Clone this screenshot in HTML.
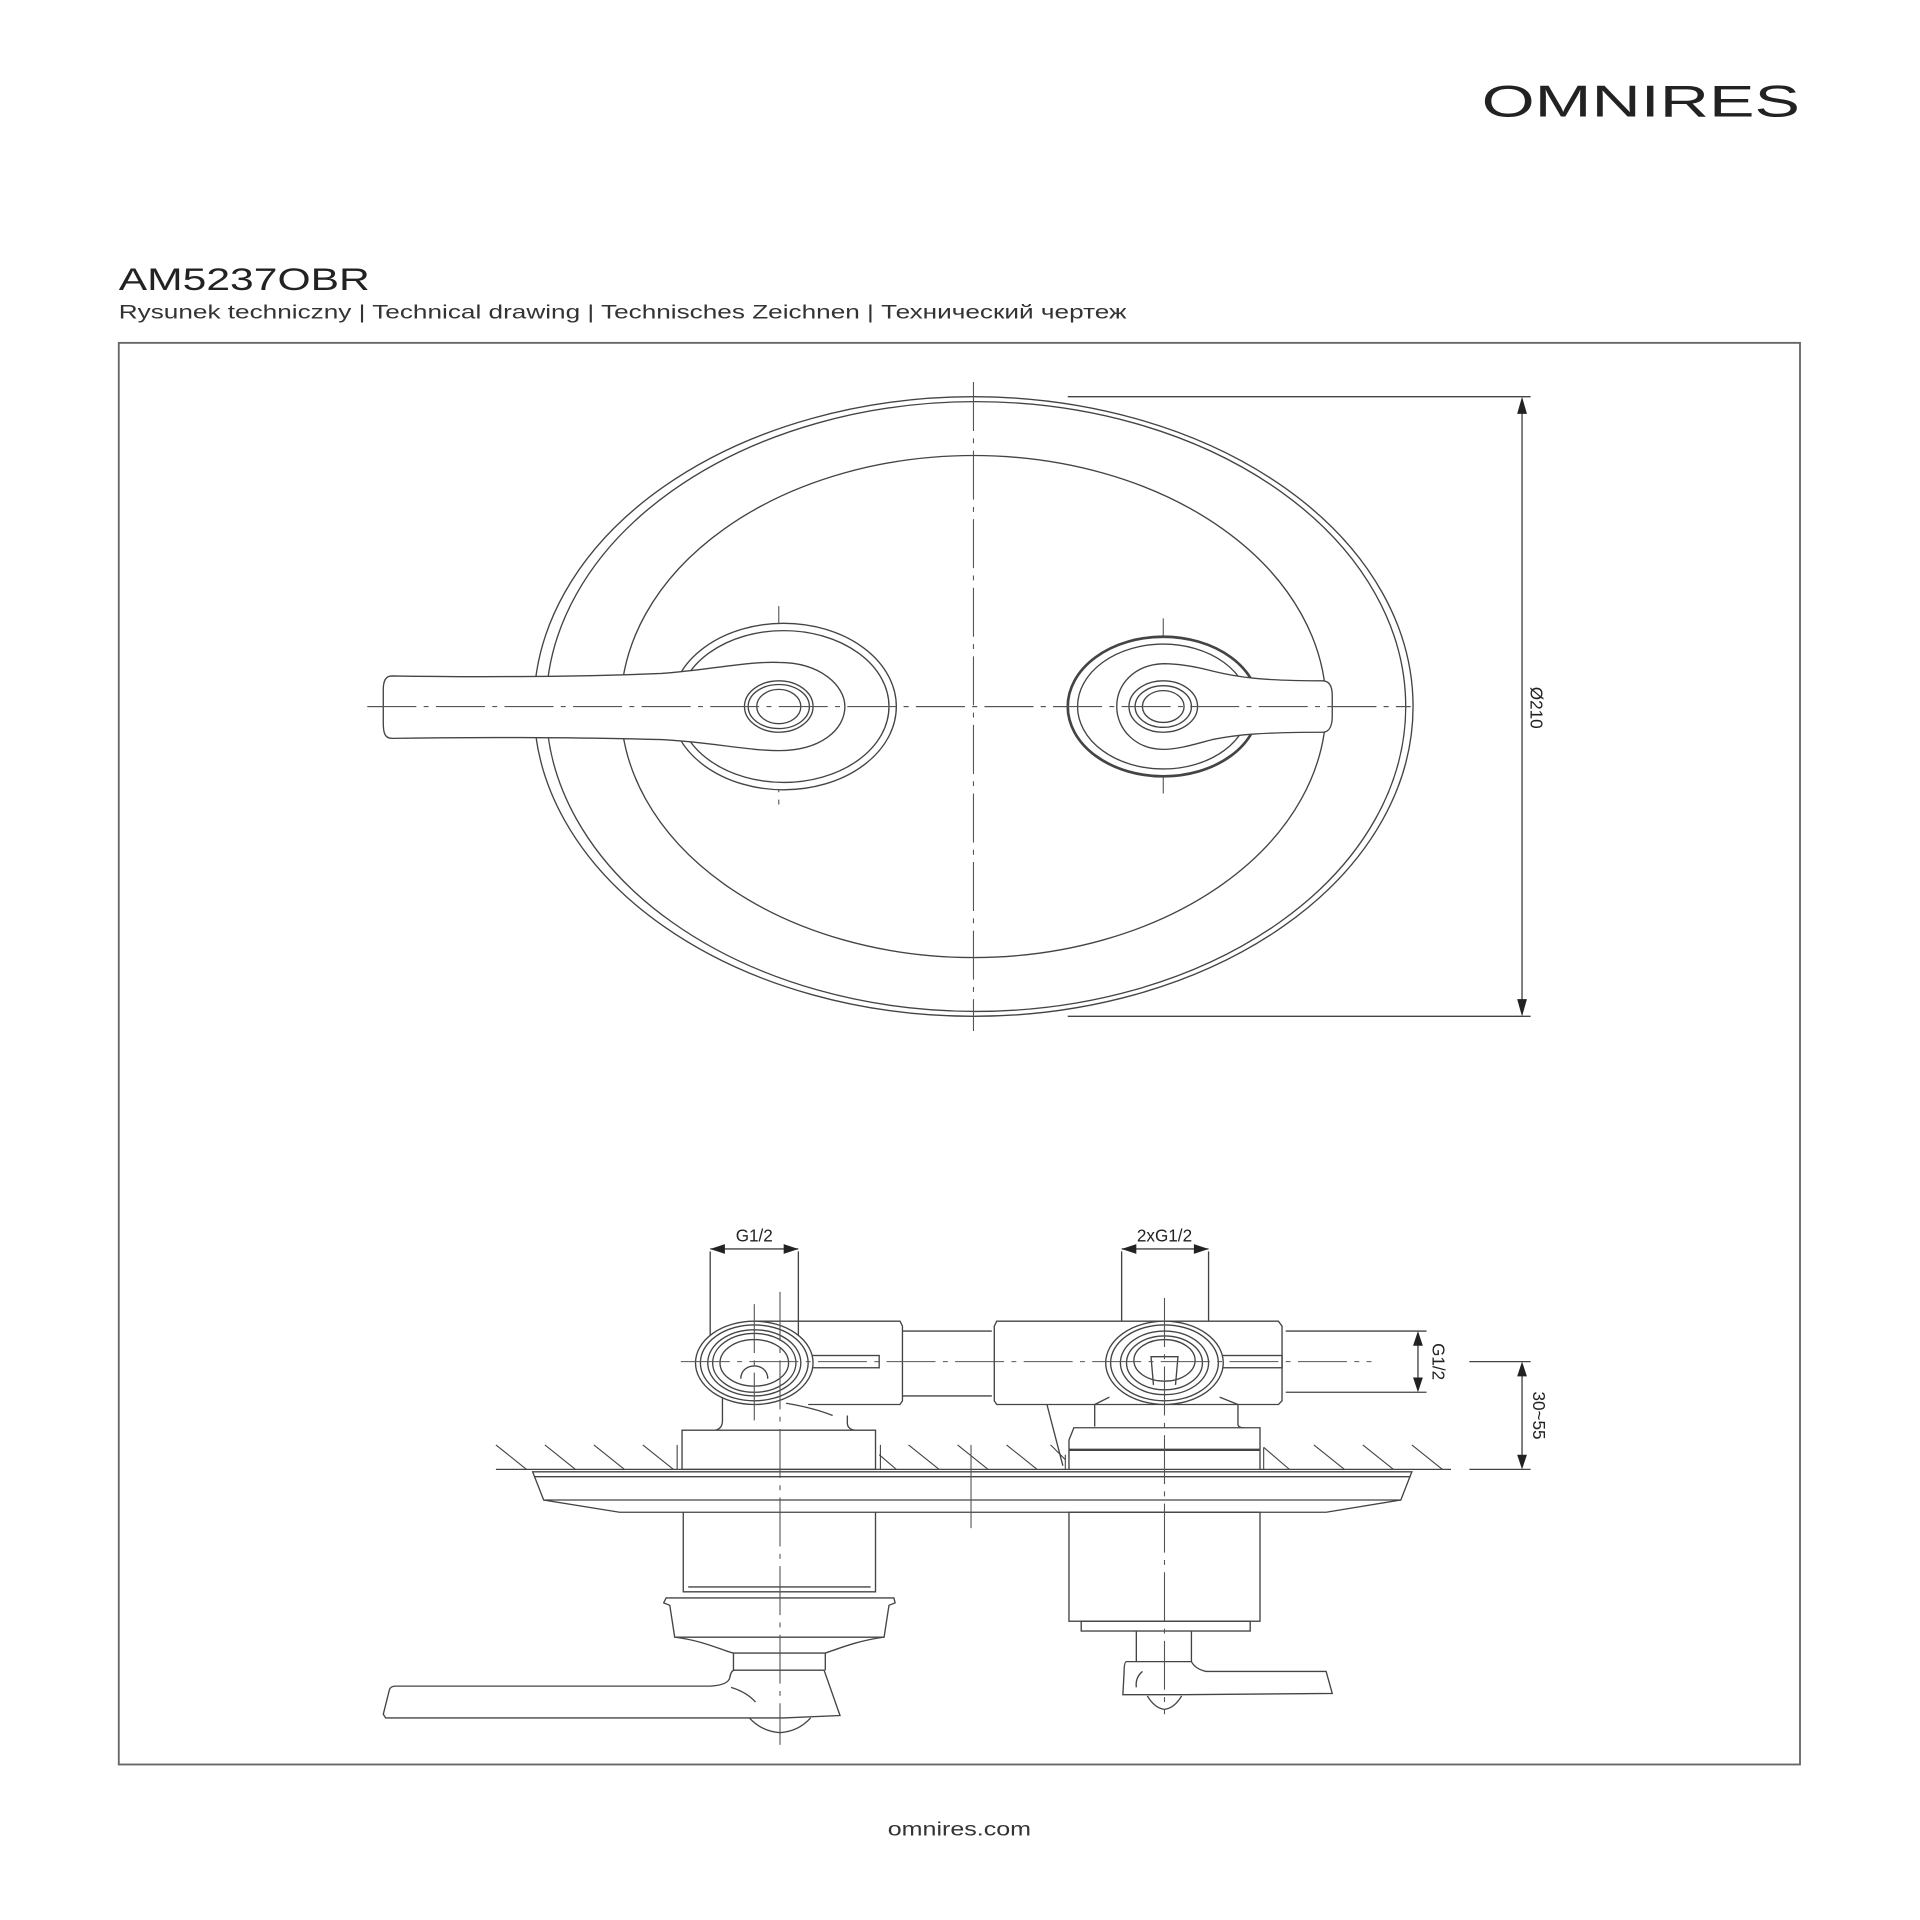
<!DOCTYPE html>
<html><head><meta charset="utf-8"><style>
html,body{margin:0;padding:0;background:#fff;}
svg{display:block;}
</style></head><body>
<svg width="1920" height="1920" viewBox="0 0 1568 1568" xmlns="http://www.w3.org/2000/svg" font-family="'Liberation Sans', sans-serif">
<rect width="1568" height="1568" fill="#fff"/>
<text x="1210" y="95" font-size="36" textLength="260" lengthAdjust="spacingAndGlyphs" fill="#222" font-family="'Liberation Sans', sans-serif">OMNIRES</text>
<text x="97" y="237" font-size="26" textLength="205" lengthAdjust="spacingAndGlyphs" fill="#222">AM5237OBR</text>
<text x="97" y="260" font-size="16" textLength="823" lengthAdjust="spacingAndGlyphs" fill="#333">Rysunek techniczny | Technical drawing | Technisches Zeichnen | Технический чертеж</text>
<rect x="97" y="280" width="1373" height="1161" fill="none" stroke="#666" stroke-width="1.5"/>
<text x="725" y="1499" font-size="16" textLength="117" lengthAdjust="spacingAndGlyphs" fill="#333">omnires.com</text>

<g fill="none" stroke="#444" stroke-width="1.1">
<ellipse cx="795" cy="577" rx="359" ry="253"/>
<ellipse cx="797" cy="577" rx="351" ry="249"/>
<ellipse cx="795" cy="577" rx="288" ry="205"/>
<g stroke="#555" stroke-width="0.9" stroke-dasharray="40 6 4 6">
<line x1="795" y1="312" x2="795" y2="842"/>
<line x1="300" y1="577" x2="1152" y2="577"/>
<line x1="636" y1="495" x2="636" y2="660"/>
<line x1="950" y1="505" x2="950" y2="648"/>
</g>
<ellipse cx="640" cy="577" rx="92" ry="68" fill="#fff"/>
<ellipse cx="640" cy="577" rx="86" ry="62"/>
<path d="M320 552 C380 553 470 553 540 550 C580 547 610 540 636 541 C670 541 690 560 690 577 C690 596 670 613 636 613 C610 613 580 606 540 604 C470 602 380 602 320 603 C314 603 313 598 313 590 L313 563 C313 556 315 552 320 552 Z" fill="#fff"/>
<ellipse cx="636" cy="577" rx="28" ry="21"/>
<ellipse cx="636" cy="577" rx="25" ry="18"/>
<ellipse cx="636" cy="577" rx="18" ry="14"/>
<ellipse cx="950" cy="577" rx="78" ry="57" stroke-width="2.2" fill="#fff"/>
<ellipse cx="950" cy="577" rx="70" ry="51"/>
<path d="M1080 556 C1030 556 1010 553 990 548 C975 544 960 542 950 542 C925 543 912 560 912 577 C912 596 928 612 950 612 C962 612 975 608 990 604 C1010 600 1030 598 1080 598 C1086 598 1088 592 1088 585 L1088 568 C1088 561 1086 556 1080 556 Z" fill="#fff"/>
<ellipse cx="950" cy="577" rx="28" ry="21"/>
<ellipse cx="950" cy="577" rx="23" ry="17"/>
<ellipse cx="950" cy="577" rx="17" ry="13"/>
<line x1="300" y1="577" x2="1152" y2="577" stroke="#555" stroke-width="0.9" stroke-dasharray="40 6 4 6"/>
<line x1="872" y1="324" x2="1250" y2="324"/>
<line x1="872" y1="830" x2="1250" y2="830"/>
<line x1="1243" y1="330" x2="1243" y2="824"/>
</g>
<path d="M1243 324 L1239 338 L1247 338 Z M1243 830 L1239 816 L1247 816 Z" fill="#222"/>
<text transform="translate(1250,578) rotate(90)" text-anchor="middle" font-size="14" fill="#222">Ø210</text>

<g fill="none" stroke="#444" stroke-width="1.1">
<line x1="580" y1="1022" x2="580" y2="1100"/>
<line x1="652" y1="1022" x2="652" y2="1100"/>
<line x1="580" y1="1020" x2="652" y2="1020"/>
<line x1="916" y1="1022" x2="916" y2="1100"/>
<line x1="987" y1="1022" x2="987" y2="1100"/>
<line x1="916" y1="1020" x2="987" y2="1020"/>
<path d="M616 1079 L735 1079 L737 1083 L737 1144 L735 1147 L660 1147"/>
<path d="M737 1087 L810 1087 M737 1140 L810 1140"/>
<path d="M812 1083 L814 1079 L1044 1079 L1047 1083 L1047 1144 L1044 1147 L814 1147 L812 1144 Z" fill="#fff"/>
<rect x="655" y="1107" width="63" height="10"/>
<rect x="990" y="1107" width="57" height="10"/>
<ellipse cx="616" cy="1113" rx="48" ry="34" fill="#fff"/>
<ellipse cx="616" cy="1113" rx="44" ry="31"/>
<ellipse cx="616" cy="1113" rx="38" ry="27"/>
<ellipse cx="616" cy="1113" rx="34" ry="24"/>
<ellipse cx="616" cy="1113" rx="28" ry="19"/>
<path d="M605 1126 C605 1112 627 1112 627 1126"/>
<path d="M590 1141 L590 1160 Q590 1167 584 1168 M642 1146 C660 1149 670 1152 680 1156 M692 1156 L692 1162 Q692 1167 698 1168"/>
<rect x="557" y="1168" width="158" height="32" fill="#fff"/>
<ellipse cx="951" cy="1113" rx="48" ry="34" fill="#fff"/>
<ellipse cx="951" cy="1113" rx="44" ry="31"/>
<ellipse cx="951" cy="1113" rx="36" ry="26"/>
<ellipse cx="951" cy="1113" rx="31" ry="22"/>
<ellipse cx="951" cy="1111" rx="25" ry="17"/>
<path d="M942 1131 L940 1108 L962 1108 L960 1131"/>
<path d="M894 1147 L894 1165 M1011 1147 L1011 1163 Q1011 1166 1016 1166 M906 1141 L894 1147 M996 1141 L1011 1147"/>
<path d="M855 1147 L868 1197"/>
<path d="M873 1200 L873 1176 L877 1166 L1029 1166 L1029 1200" fill="#fff"/>
<line x1="873" y1="1184" x2="1029" y2="1184" stroke-width="2"/>
<g stroke-width="0.9">
<line x1="405" y1="1180" x2="430" y2="1200"/>
<line x1="445" y1="1180" x2="470" y2="1200"/>
<line x1="485" y1="1180" x2="510" y2="1200"/>
<line x1="525" y1="1180" x2="550" y2="1200"/>
<line x1="718" y1="1188" x2="732" y2="1200"/>
<line x1="742" y1="1180" x2="767" y2="1200"/>
<line x1="782" y1="1180" x2="807" y2="1200"/>
<line x1="822" y1="1180" x2="847" y2="1200"/>
<line x1="858" y1="1180" x2="870" y2="1192"/>
<line x1="1032" y1="1182" x2="1053" y2="1200"/>
<line x1="1073" y1="1180" x2="1098" y2="1200"/>
<line x1="1113" y1="1180" x2="1138" y2="1200"/>
<line x1="1153" y1="1180" x2="1178" y2="1200"/>
<line x1="553" y1="1180" x2="553" y2="1200"/>
<line x1="719" y1="1180" x2="719" y2="1200"/>
<line x1="870" y1="1188" x2="870" y2="1200"/>
<line x1="1032" y1="1182" x2="1032" y2="1200"/>
</g>
<line x1="405" y1="1200" x2="1185" y2="1200"/>
<path d="M435 1202 L1153 1202 L1144 1225 L1083 1235 L506 1235 L444 1225 Z" fill="#fff"/>
<line x1="436" y1="1206" x2="1152" y2="1206"/>
<line x1="444" y1="1225" x2="1144" y2="1225"/>
<path d="M558 1235 L558 1300 L715 1300 L715 1235"/>
<line x1="562" y1="1296" x2="711" y2="1296"/>
<path d="M544 1305 L730 1305 L731 1309 L726 1311 L722 1337 L551 1337 L547 1311 L542 1309 Z"/>
<path d="M551 1337 C575 1340 590 1348 599 1350 L674 1350 C686 1346 700 1340 722 1337"/>
<path d="M599 1350 L599 1364 M674 1350 L674 1364"/>
<path d="M600 1364 L673 1364 L686 1401 L640 1403 L315 1403 L313 1400 L318 1380 Q319 1377 323 1377 L580 1377 Q595 1376 596 1370 Q597 1364 600 1364 Z" fill="#fff"/>
<path d="M597 1378 Q610 1382 617 1390"/>
<path d="M612 1403 Q622 1414 637 1415 Q652 1414 662 1403"/>
<rect x="873" y="1235" width="156" height="89"/>
<rect x="883" y="1324" width="138" height="8"/>
<path d="M928 1332 L928 1357 M973 1332 L973 1357"/>
<path d="M920 1357 L973 1357 Q976 1363 985 1365 L1083 1365 L1088 1383 L966 1384 L917 1384 L918 1366 Q918 1357 920 1357 Z" fill="#fff"/>
<path d="M933 1365 Q927 1370 928 1378"/>
<path d="M937 1385 Q943 1395 951 1396 Q959 1395 965 1385"/>
<line x1="1050" y1="1087" x2="1165" y2="1087"/>
<line x1="1050" y1="1137" x2="1165" y2="1137"/>
<line x1="1158" y1="1092" x2="1158" y2="1132"/>
<line x1="1200" y1="1112" x2="1250" y2="1112"/>
<line x1="1200" y1="1200" x2="1250" y2="1200"/>
<line x1="1243" y1="1116" x2="1243" y2="1196"/>
</g>
<g stroke="#555" stroke-width="0.9" stroke-dasharray="40 6 4 6" fill="none">
<line x1="556" y1="1112" x2="1120" y2="1112"/>
<line x1="616" y1="1065" x2="616" y2="1160"/>
<line x1="637" y1="1055" x2="637" y2="1425"/>
<line x1="951" y1="1060" x2="951" y2="1400"/>
<line x1="793" y1="1180" x2="793" y2="1248" stroke-dasharray="none"/>
</g>
<g fill="#222">
<path d="M580 1020 L592 1016 L592 1024 Z M652 1020 L640 1016 L640 1024 Z"/>
<path d="M916 1020 L928 1016 L928 1024 Z M987 1020 L975 1016 L975 1024 Z"/>
<path d="M1158 1087 L1154 1099 L1162 1099 Z M1158 1137 L1154 1125 L1162 1125 Z"/>
<path d="M1243 1112 L1239 1124 L1247 1124 Z M1243 1200 L1239 1188 L1247 1188 Z"/>
</g>
<g font-size="14" fill="#222" text-anchor="middle">
<text x="616" y="1014">G1/2</text>
<text x="951" y="1014">2xG1/2</text>
<text transform="translate(1170,1112) rotate(90)">G1/2</text>
<text transform="translate(1252,1156) rotate(90)">30~55</text>
</g>
</svg>
</body></html>
